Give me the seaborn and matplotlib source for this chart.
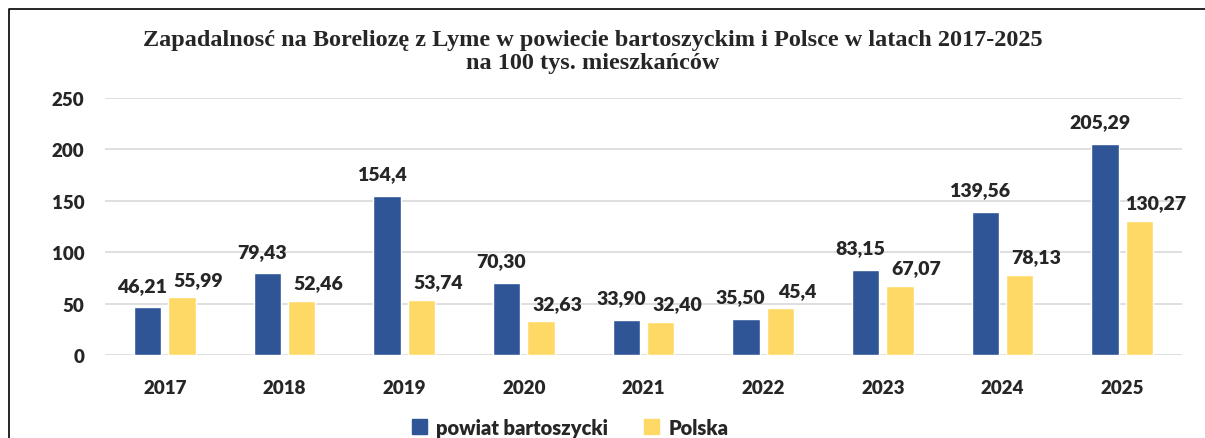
import pandas as pd
import matplotlib
matplotlib.use('Agg')
from matplotlib import pyplot as plt
from matplotlib.lines import Line2D
import seaborn as sns

# data
lata = ['2017', '2018', '2019', '2020', '2021', '2022', '2023', '2024', '2025']
powiat = [46.21, 79.43, 154.4, 70.30, 33.90, 35.50, 83.15, 139.56, 205.29]
polska = [55.99, 52.46, 53.74, 32.63, 32.40, 45.4, 67.07, 78.13, 130.27]
powiat_etykiety = ['46,21', '79,43', '154,4', '70,30', '33,90', '35,50', '83,15', '139,56', '205,29']
polska_etykiety = ['55,99', '52,46', '53,74', '32,63', '32,40', '45,4', '67,07', '78,13', '130,27']
serie = ['powiat bartoszycki', 'Polska']
kolory = ['#2F5597', '#FFD966']

df = pd.DataFrame({
    'rok': lata * 2,
    'wartosc': powiat + polska,
    'seria': [serie[0]] * len(lata) + [serie[1]] * len(lata),
})

sns.set_style('white')
plt.rcParams['font.family'] = ['Lato', 'DejaVu Sans']

fig = plt.figure(figsize=(12.05, 4.39), dpi=100)
ax = fig.add_axes([105 / 1205, 83 / 439, 1077 / 1205, 257 / 439])

sns.barplot(data=df, x='rok', y='wartosc', hue='seria', palette=kolory,
            width=0.57, gap=0.2, ax=ax, legend=False, saturation=1)

ax.set_ylim(0, 250)
ax.set_xlim(-0.5, len(lata) - 0.5)
ax.set_yticks(range(0, 251, 50))
ax.yaxis.grid(True, color='#D9D9D9', linewidth=1.2)
ax.set_axisbelow(True)
for s in ax.spines.values():
    s.set_visible(False)
ax.set_xlabel('')
ax.set_ylabel('')
ax.tick_params(axis='both', length=0, labelsize=13.5)
ax.tick_params(axis='y', pad=15)
ax.tick_params(axis='x', pad=17)
for t in ax.get_xticklabels() + ax.get_yticklabels():
    t.set_fontweight('heavy')

# data labels, nudged sideways like in the original
for cont, etykiety, dx, dy in zip(ax.containers, [powiat_etykiety, polska_etykiety],
                                  [-4, 12], [16, 13]):
    for bar, txt in zip(cont, etykiety):
        ax.annotate(txt, (bar.get_x() + bar.get_width() / 2, bar.get_height()),
                    xytext=(dx, dy), textcoords='offset points',
                    ha='center', va='center', fontsize=14, fontweight='heavy')

fig.text(0.492, 0.882,
         'Zapadalnosć na Boreliozę z Lyme w powiecie bartoszyckim i Polsce w latach 2017-2025\nna 100 tys. mieszkańców',
         ha='center', va='center', fontsize=17.5, fontweight='bold',
         family=['Liberation Serif', 'DejaVu Serif'], linespacing=1.1)

uchwyty = [plt.Rectangle((0, 0), 1, 1, color=c) for c in kolory]
fig.legend(uchwyty, serie, loc='center', bbox_to_anchor=(0.473, 0.025), ncol=2,
           frameon=False, handlelength=0.75, handleheight=0.75, columnspacing=1.8,
           handletextpad=0.45, prop={'size': 14.5, 'weight': 'heavy'})

# chart frame (right and bottom edges fall outside the picture)
fig.add_artist(Line2D([9 / 1205, 9 / 1205, 1.0], [0.0, 1 - 10 / 439, 1 - 10 / 439],
                      color='black', linewidth=1.2, transform=fig.transFigure))

plt.savefig('out.png', dpi=100)
